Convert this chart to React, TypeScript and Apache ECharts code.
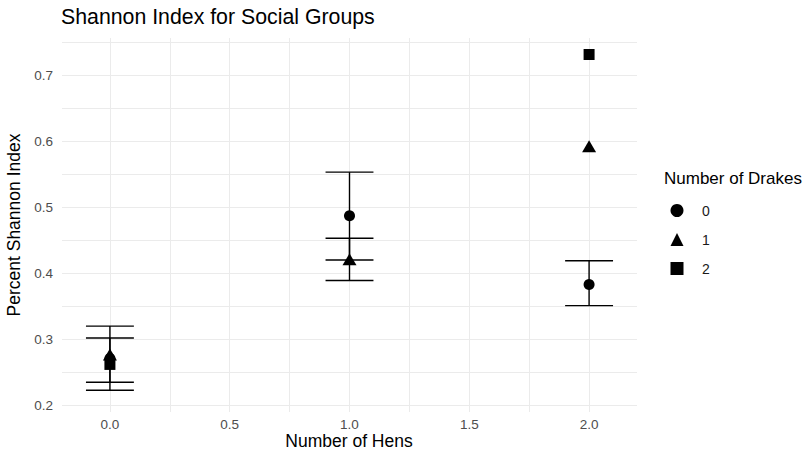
import React, { useEffect, useRef } from "react";
import * as echarts from "echarts";

const hens = [0, 1, 2];
const drakeGroups = ["0", "1", "2"];
const drake0Mean = [0.271, 0.487, 0.383];
const drake1Mean = [0.277, 0.421, 0.592];
const drake2Mean = [0.262, null, 0.731];
// error bars: [hens, low, high]
const errorBars = [
  [0, 0.223, 0.32],
  [0, 0.235, 0.302],
  [1, 0.42, 0.553],
  [1, 0.389, 0.453],
  [2, 0.351, 0.419],
];
const xMajor = [0, 0.5, 1, 1.5, 2];
const xMinor = [0.25, 0.75, 1.25, 1.75];
const yMajor = [0.2, 0.3, 0.4, 0.5, 0.6, 0.7];
const yMinor = [0.25, 0.35, 0.45, 0.55, 0.65, 0.75];

const FONT = "'Liberation Sans', Arial, sans-serif";

export default function App() {
  const ref = useRef<HTMLDivElement>(null);
  useEffect(() => {
    if (!ref.current) return;
    const chart = echarts.init(ref.current, null, { renderer: "svg" });
    const mk = (arr: (number | null)[]) =>
      hens.map((h, i) => (arr[i] == null ? null : [h, arr[i]])).filter((d) => d);
    const gridLine = { show: true, lineStyle: { color: "#EBEBEB", width: 1 } };
    chart.setOption({
      animation: false,
      textStyle: { fontFamily: FONT },
      title: {
        text: "Shannon Index for Social Groups",
        left: 61,
        top: 6,
        padding: 0,
        textStyle: { fontFamily: FONT, fontSize: 21.3, fontWeight: "normal", color: "#000" },
      },
      grid: { left: 62, right: 171, top: 38, bottom: 40, outerBoundsMode: "none", containLabel: false },
      xAxis: {
        type: "value",
        min: -0.2,
        max: 2.2,
        axisLine: { show: false },
        axisTick: { show: false, customValues: [...xMajor, ...xMinor].sort((a, b) => a - b) },
        axisLabel: {
          customValues: xMajor,
          formatter: (v: number) => v.toFixed(1),
          color: "#4D4D4D",
          fontSize: 13.5,
          margin: 5,
          fontFamily: FONT,
        },
        splitLine: gridLine,
      },
      yAxis: {
        type: "value",
        min: 0.19,
        max: 0.756,
        name: "Percent Shannon Index",
        nameLocation: "middle",
        nameGap: 35,
        nameTextStyle: { fontFamily: FONT, fontSize: 17.5, color: "#000" },
        axisLine: { show: false },
        axisTick: { show: false, customValues: [...yMajor, ...yMinor].sort((a, b) => a - b) },
        axisLabel: {
          customValues: yMajor,
          formatter: (v: number) => v.toFixed(1),
          color: "#4D4D4D",
          fontSize: 13.5,
          margin: 9,
          fontFamily: FONT,
        },
        splitLine: gridLine,
      },
      legend: {
        orient: "vertical",
        left: 670.5,
        top: 203.5,
        padding: 0,
        itemWidth: 13,
        itemHeight: 13,
        itemGap: 15,
        data: [
          { name: drakeGroups[0], icon: "circle", itemStyle: { color: "#000", opacity: 1 } },
          { name: drakeGroups[1], icon: "triangle", itemStyle: { color: "#000", opacity: 1 } },
          { name: drakeGroups[2], icon: "rect", itemStyle: { color: "#000", opacity: 1 } },
        ],
        textStyle: { fontFamily: FONT, fontSize: 14, color: "#1A1A1A", padding: [0, 0, 0, 13.5] },
      },
      graphic: [
        {
          type: "text",
          left: 664,
          top: 170,
          style: { text: "Number of Drakes", font: `17px ${FONT}`, fill: "#000" },
        },
        {
          type: "text",
          x: 349,
          y: 441,
          style: {
            text: "Number of Hens",
            font: `17.5px ${FONT}`,
            fill: "#000",
            align: "center",
            verticalAlign: "middle",
          },
        },
      ],
      series: [
        {
          type: "custom",
          name: "errors",
          data: errorBars,
          z: 3,
          renderItem: (params: any, api: any) => {
            const x = api.value(0);
            const lo = api.coord([x, api.value(1)]);
            const hi = api.coord([x, api.value(2)]);
            const l = api.coord([x - 0.1, api.value(1)]);
            const r = api.coord([x + 0.1, api.value(1)]);
            const style = { stroke: "#000", lineWidth: 1.4 };
            return {
              type: "group",
              children: [
                { type: "line", shape: { x1: lo[0], y1: lo[1], x2: hi[0], y2: hi[1] }, style },
                { type: "line", shape: { x1: l[0], y1: lo[1], x2: r[0], y2: lo[1] }, style },
                { type: "line", shape: { x1: l[0], y1: hi[1], x2: r[0], y2: hi[1] }, style },
              ],
            };
          },
        },
        {
          type: "scatter",
          name: drakeGroups[0],
          symbol: "circle",
          symbolSize: 11,
          itemStyle: { color: "#000", opacity: 1 },
          data: mk(drake0Mean),
          z: 4,
        },
        {
          type: "scatter",
          name: drakeGroups[1],
          symbol: "triangle",
          symbolSize: [14, 12],
          itemStyle: { color: "#000", opacity: 1 },
          data: mk(drake1Mean),
          z: 4,
        },
        {
          type: "scatter",
          name: drakeGroups[2],
          symbol: "rect",
          symbolSize: 11,
          itemStyle: { color: "#000", opacity: 1 },
          data: mk(drake2Mean),
          z: 4,
        },
      ],
    });
    return () => chart.dispose();
  }, []);
  return (
    <div
      ref={ref}
      style={{ position: "absolute", left: 0, top: 0, width: 808, height: 452 }}
    />
  );
}
